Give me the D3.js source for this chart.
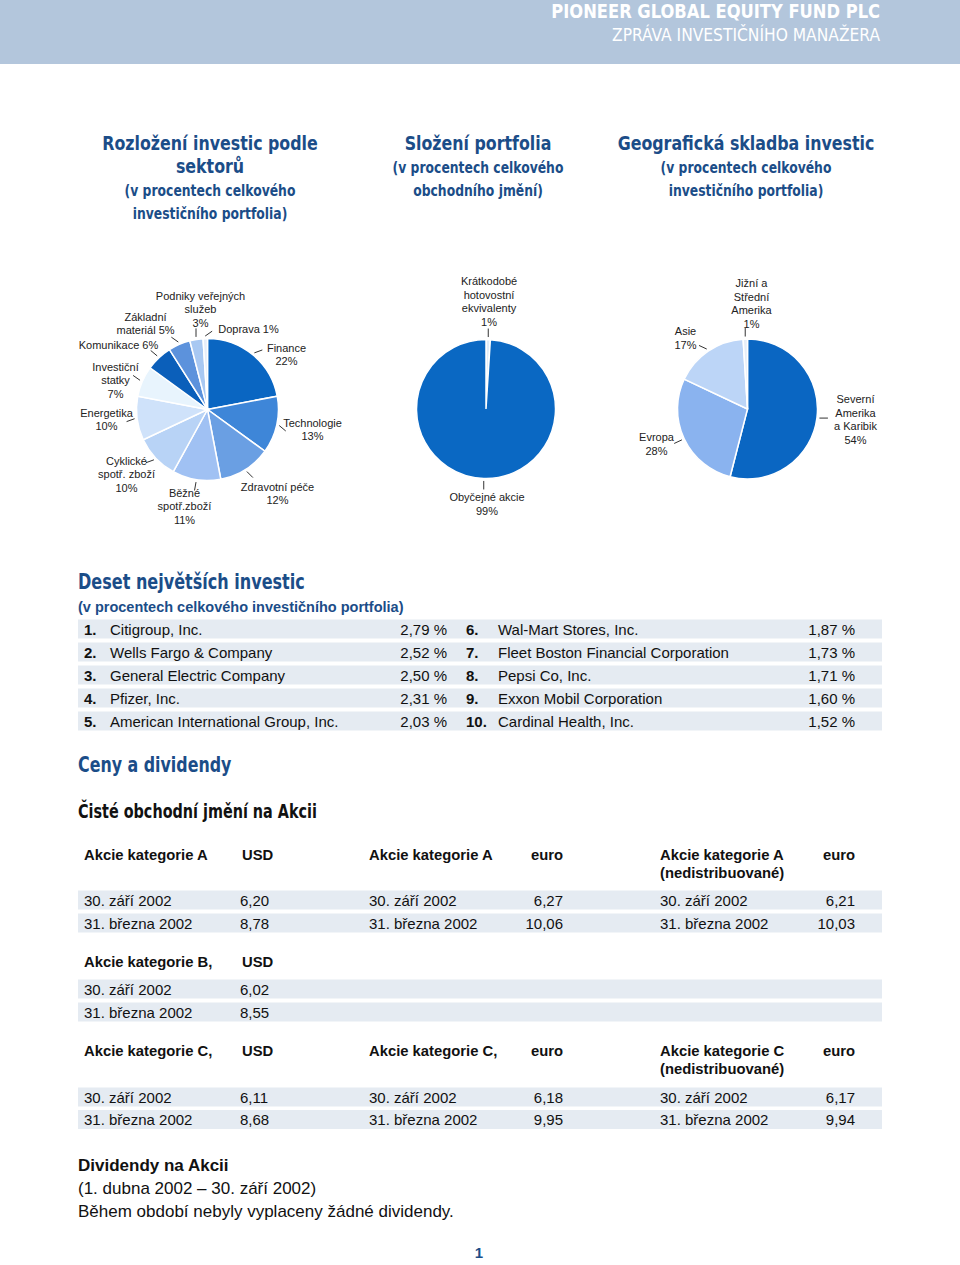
<!DOCTYPE html>
<html><head><meta charset="utf-8">
<script src="https://cdn.jsdelivr.net/npm/d3@7"></script>
<style>
html,body{margin:0;padding:0;background:#fff;}
svg{display:block;}
</style></head>
<body>
<svg id="chart" width="960" height="1265"></svg>
<script>
// ---------- DATA ----------
const headerTitle = "PIONEER GLOBAL EQUITY FUND PLC";
const headerSubtitle = "ZPRÁVA INVESTIČNÍHO MANAŽERA";

const sectorTitle = ["Rozložení investic podle", "sektorů"];
const sectorSubtitle = ["(v procentech celkového", "investičního portfolia)"];
const sectorNames = [["Finance"], ["Technologie"], ["Zdravotní péče"], ["Běžné", "spotř.zboží"], ["Cyklické", "spotř. zboží"], ["Energetika"], ["Investiční", "statky"], ["Komunikace"], ["Základní", "materiál"], ["Podniky veřejných", "služeb"], ["Doprava"]];
const sectorValues = [22, 13, 12, 11, 10, 10, 7, 6, 5, 3, 1];

const compTitle = ["Složení portfolia"];
const compSubtitle = ["(v procentech celkového", "obchodního jmění)"];
const compNames = [["Krátkodobé", "hotovostní", "ekvivalenty"], ["Obyčejné akcie"]];
const compValues = [1, 99];

const geoTitle = ["Geografická skladba investic"];
const geoSubtitle = ["(v procentech celkového", "investičního portfolia)"];
const geoNames = [["Severní", "Amerika", "a Karibik"], ["Evropa"], ["Asie"], ["Jižní a", "Střední", "Amerika"]];
const geoValues = [54, 28, 17, 1];

const topTitle = "Deset největších investic";
const topSubtitle = "(v procentech celkového investičního portfolia)";
const topRanks = ["1.", "2.", "3.", "4.", "5.", "6.", "7.", "8.", "9.", "10."];
const topNames = ["Citigroup, Inc.", "Wells Fargo & Company", "General Electric Company", "Pfizer, Inc.", "American International Group, Inc.", "Wal-Mart Stores, Inc.", "Fleet Boston Financial Corporation", "Pepsi Co, Inc.", "Exxon Mobil Corporation", "Cardinal Health, Inc."];
const topValues = ["2,79 %", "2,52 %", "2,50 %", "2,31 %", "2,03 %", "1,87 %", "1,73 %", "1,71 %", "1,60 %", "1,52 %"];

const pricesTitle = "Ceny a dividendy";
const navTitle = "Čisté obchodní jmění na Akcii";
const priceDates = ["30. září 2002", "31. března 2002"];
const classAHeaders = [["Akcie kategorie A"], ["USD"], ["Akcie kategorie A"], ["euro"], ["Akcie kategorie A", "(nedistribuované)"], ["euro"]];
const classAUsd = ["6,20", "8,78"];
const classAEuro = ["6,27", "10,06"];
const classAEuroAcc = ["6,21", "10,03"];
const classBHeaders = [["Akcie kategorie B,"], ["USD"]];
const classBUsd = ["6,02", "8,55"];
const classCHeaders = [["Akcie kategorie C,"], ["USD"], ["Akcie kategorie C,"], ["euro"], ["Akcie kategorie C", "(nedistribuované)"], ["euro"]];
const classCUsd = ["6,11", "8,68"];
const classCEuro = ["6,18", "9,95"];
const classCEuroAcc = ["6,17", "9,94"];

const divTitle = "Dividendy na Akcii";
const divLines = ["(1. dubna 2002 – 30. září 2002)", "Během období nebyly vyplaceny žádné dividendy."];
const pageNumber = "1";

// ---------- STYLE / LAYOUT ----------
const BLUE = "#1b4d88";
const BAND = "#e5ebf2";
const cond = "'DejaVu Sans Condensed','DejaVu Sans',sans-serif";
const body = "'Liberation Sans',Arial,sans-serif";

const sectorColors = ["#0a66c2", "#3e86d8", "#6a9fe3", "#a0c1f3", "#b8d3f6", "#cfe2fa", "#e8f4fd", "#0b5fba", "#5c92dc", "#a8c8f2", "#e6eefa"];
const compColors = ["#e0ecf8", "#0a68c3"];
const geoColors = ["#0a66c2", "#8ab3ef", "#bcd5f7", "#e6eef8"];

// label placement offsets (relative to pie centre), leader direction (deg), inline %
const sectorLabelPos = [[79, -62], [105, 13], [70, 77], [-23, 83], [-81, 51], [-101, 3], [-92, -43], [-89, -65], [-62, -93], [-7, -114], [41, -81]];
const sectorLeader = [-20, 40, 45, 100, 160, 160, 215, 220, 215, -90, -35];
const sectorInline = [false, false, false, false, false, false, false, true, true, false, true];
const compLabelPos = [[3, -128], [1, 88]];
const compLeader = [-90, 90];
const geoLabelPos = [[108, -10], [-91, 28], [-62, -78], [4, -126]];
const geoLeader = [0, 155, 205, -90];

const svg = d3.select("#chart");

// condensed-text helper (horizontal squeeze keeps the text real)
function ctext(parent, x, y, anchor, size, sx, str, weight, fill) {
  return parent.append("g").attr("transform", `translate(${x},${y}) scale(${sx},1)`)
    .append("text").attr("text-anchor", anchor).attr("font-family", cond)
    .attr("font-weight", weight || "bold").attr("font-size", size).attr("fill", fill).text(str);
}

// ---------- HEADER ----------
svg.append("rect").attr("x", 0).attr("y", 0).attr("width", 960).attr("height", 64).attr("fill", "#b3c6dc");
ctext(svg, 880, 17.5, "end", 19, 0.955, headerTitle, "bold", "#fff");
ctext(svg, 880, 41, "end", 17.5, 0.985, headerSubtitle, "normal", "#fff");

// ---------- PIE TITLES ----------
function titleBlock(cx, y0, titles, subs) {
  titles.forEach((t, i) => ctext(svg, cx, y0 + i * 23, "middle", 20, 0.88, t, "bold", BLUE));
  const y1 = y0 + titles.length * 23;
  subs.forEach((t, i) => ctext(svg, cx, y1 + i * 23, "middle", 16, 0.86, t, "bold", BLUE));
}
titleBlock(210, 150, sectorTitle, sectorSubtitle);
titleBlock(478, 150, compTitle, compSubtitle);
titleBlock(746, 150, geoTitle, geoSubtitle);

// ---------- PIES ----------
function drawPie(cx, cy, r, values, names, colors, labelPos, leader, inline) {
  const g = svg.append("g").attr("transform", `translate(${cx},${cy})`);
  const pie = d3.pie().sort(null).value(d => d)(values);
  const arc = d3.arc().innerRadius(0).outerRadius(r);
  g.selectAll("path.slice").data(pie).join("path").attr("class", "slice")
    .attr("d", arc).attr("fill", (d, i) => colors[i]).attr("stroke", "#fff").attr("stroke-width", 1.5);
  pie.forEach((d, i) => {
    const a = (d.startAngle + d.endAngle) / 2;
    const sx = Math.sin(a) * (r + 2.5), sy = -Math.cos(a) * (r + 2.5);
    const th = leader[i] * Math.PI / 180;
    g.append("line").attr("x1", sx).attr("y1", sy).attr("x2", sx + Math.cos(th) * 8.5).attr("y2", sy + Math.sin(th) * 8.5)
      .attr("stroke", "#333").attr("stroke-width", 1);
    const [lx, ly] = labelPos[i];
    const lines = names[i].slice();
    const pct = values[i] + "%";
    if (inline[i]) lines[lines.length - 1] = lines[lines.length - 1] + " " + pct; else lines.push(pct);
    const t = g.append("text").attr("text-anchor", "middle").attr("font-family", body).attr("font-size", 11).attr("fill", "#222");
    lines.forEach((s, j) => t.append("tspan").attr("x", lx).attr("y", ly + 4 + j * 13.7).text(s));
  });
}
drawPie(207.5, 409.5, 71, sectorValues, sectorNames, sectorColors, sectorLabelPos, sectorLeader, sectorInline);
drawPie(486, 409, 69.5, compValues, compNames, compColors, compLabelPos, compLeader, [false, false]);
drawPie(747.5, 409, 70, geoValues, geoNames, geoColors, geoLabelPos, geoLeader, [false, false, false, false]);

// ---------- TOP TEN ----------
ctext(svg, 78, 589, "start", 21, 0.85, topTitle, "bold", BLUE);
svg.append("text").attr("x", 78).attr("y", 612).attr("font-family", body).attr("font-weight", "bold").attr("font-size", 14.5).attr("fill", BLUE).text(topSubtitle);

const rowY = d3.scaleLinear().domain([0, 1]).range([629, 652]);
const topRows = topNames.map((n, i) => ({ rank: topRanks[i], name: n, value: topValues[i], col: Math.floor(i / 5), row: i % 5 }));
svg.selectAll("rect.topband").data(d3.range(5)).join("rect").attr("class", "topband")
  .attr("x", 78).attr("y", d => rowY(d) - 9.5).attr("width", 804).attr("height", 19).attr("fill", BAND);
const colX = [{ rank: 84, name: 110, value: 447 }, { rank: 466, name: 498, value: 855 }];
const tg = svg.append("g").attr("font-family", body).attr("font-size", 15).attr("fill", "#111");
topRows.forEach(d => {
  const y = rowY(d.row) + 5.5;
  tg.append("text").attr("x", colX[d.col].rank).attr("y", y).attr("font-weight", "bold").text(d.rank);
  tg.append("text").attr("x", colX[d.col].name).attr("y", y).text(d.name);
  tg.append("text").attr("x", colX[d.col].value).attr("y", y).attr("text-anchor", "end").text(d.value);
});

// ---------- PRICES ----------
ctext(svg, 78, 772, "start", 21, 0.84, pricesTitle, "bold", BLUE);
ctext(svg, 78, 818, "start", 19.5, 0.82, navTitle, "bold", "#111");

const hdrCols = [{ x: 84, a: "start" }, { x: 242, a: "start" }, { x: 369, a: "start" }, { x: 563, a: "end" }, { x: 660, a: "start" }, { x: 855, a: "end" }];
const valCols = [{ x: 84, a: "start" }, { x: 240, a: "start" }, { x: 369, a: "start" }, { x: 563, a: "end" }, { x: 660, a: "start" }, { x: 855, a: "end" }];

function priceBlock(headerY, headers, valueSets, rowsY) {
  const g = svg.append("g").attr("font-family", body).attr("fill", "#111");
  headers.forEach((h, i) => {
    const t = g.append("text").attr("x", hdrCols[i].x).attr("text-anchor", hdrCols[i].a).attr("font-weight", "bold").attr("font-size", 14.8);
    h.forEach((s, j) => t.append("tspan").attr("x", hdrCols[i].x).attr("y", headerY + 5 + j * 18).text(s));
  });
  g.selectAll("rect.band").data(rowsY).join("rect").attr("x", 78).attr("y", d => d - 9.5).attr("width", 804).attr("height", 19).attr("fill", BAND);
  rowsY.forEach((y, r) => {
    const cells = [];
    valueSets.forEach(vs => { cells.push(priceDates[r]); cells.push(vs[r]); });
    cells.forEach((c, i) => g.append("text").attr("x", valCols[i].x).attr("y", y + 5.5).attr("text-anchor", valCols[i].a).attr("font-size", 15).text(c));
  });
}
priceBlock(855, classAHeaders, [classAUsd, classAEuro, classAEuroAcc], [900, 923]);
priceBlock(962, classBHeaders, [classBUsd], [989, 1012]);
priceBlock(1051, classCHeaders, [classCUsd, classCEuro, classCEuroAcc], [1097, 1119.5]);

// ---------- DIVIDENDS ----------
svg.append("text").attr("x", 78).attr("y", 1171).attr("font-family", body).attr("font-weight", "bold").attr("font-size", 17).attr("fill", "#111").text(divTitle);
divLines.forEach((s, i) => svg.append("text").attr("x", 78).attr("y", 1194 + i * 23).attr("font-family", body).attr("font-size", 17).attr("fill", "#111").text(s));
svg.append("text").attr("x", 479).attr("y", 1258).attr("text-anchor", "middle").attr("font-family", body).attr("font-weight", "bold").attr("font-size", 15).attr("fill", BLUE).text(pageNumber);
</script>
</body></html>
